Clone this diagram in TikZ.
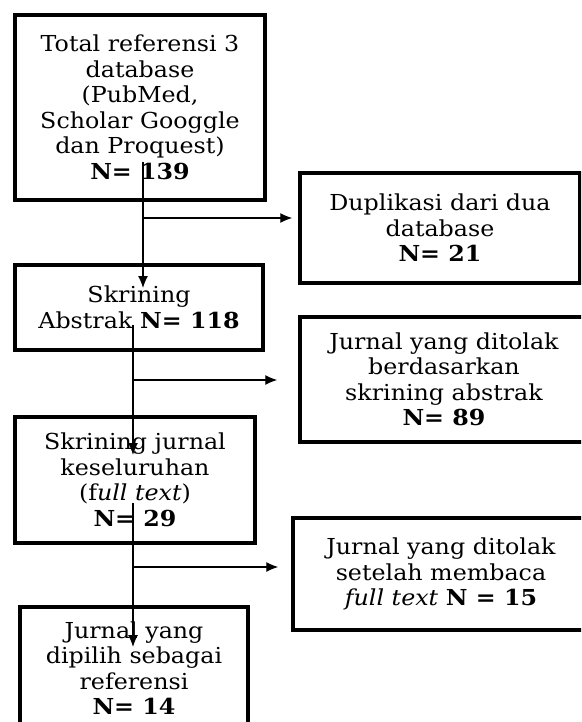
\documentclass[tikz,border=0pt]{standalone}
\usepackage{fontspec}
\setmainfont{DejaVu Serif}[FakeStretch=1.08]
\usetikzlibrary{arrows.meta,positioning}
\tikzset{
  stage/.style={
    shape = rectangle,
    draw,
    line width = 3.5pt,
    align = center,
    inner sep = 0pt,
    font = \fontsize{22}{25.5}\selectfont
  },
  flow/.style={
    line width = 1.2pt,
    -{Latex[length=12pt,width=10pt]}
  },
}
\begin{document}
\begin{tikzpicture}[x=1pt,y=-1pt]
\clip (0,0) rectangle (581,722);
\useasboundingbox (0,0) rectangle (581,722);
% left column
\node[stage, minimum width=250, minimum height=185] (total) at (140,107.5)
  {Total referensi 3\\ database\\ (PubMed,\\ Scholar Googgle\\ dan Proquest)\\ \textbf{N= 139}};
\node[stage, minimum width=248, minimum height=85] (abstrak) at (139,307.5)
  {Skrining\\ Abstrak \textbf{N= 118}};
\node[stage, minimum width=240, minimum height=126] (fulltext) at (135,480)
  {Skrining jurnal\\ keseluruhan\\ (f\textit{ull text})\\ \textbf{N= 29}};
\node[stage, minimum width=228, minimum height=122] (pilih) at (134,668)
  {Jurnal yang\\ dipilih sebagai\\ referensi\\ \textbf{N= 14}};
% right column
\node[stage, minimum width=280, minimum height=110] (duplikasi) at (440,228)
  {Duplikasi dari dua\\ database\\ \textbf{N= 21}};
\node[stage, minimum width=288, minimum height=125] (tolakabs) at (444,379.5)
  {Jurnal yang ditolak\\ berdasarkan\\ skrining abstrak\\ \textbf{N= 89}};
\node[stage, minimum width=296, minimum height=112] (tolakfull) at (441,574)
  {Jurnal yang ditolak\\ setelah membaca\\ \textit{full text} \textbf{N = 15}};
% connectors
\coordinate (s1) at (143,162);
\coordinate (e1) at (143,288);
\coordinate (b1) at (143,218);
\coordinate (s2) at (133,325);
\coordinate (e2) at (133,455);
\coordinate (b2) at (133,380);
\coordinate (s3) at (133,503);
\coordinate (e3) at (133,647);
\coordinate (b3) at (133,567);
\draw[flow] (s1) -- (e1);
\draw[flow, shorten >=6pt] (b1) -- (b1 -| duplikasi.west);
\draw[flow] (s2) -- (e2);
\draw[flow, shorten >=21pt] (b2) -- (b2 -| tolakabs.west);
\draw[flow] (s3) -- (e3);
\draw[flow, shorten >=13pt] (b3) -- (b3 -| tolakfull.west);
\end{tikzpicture}
\end{document}
